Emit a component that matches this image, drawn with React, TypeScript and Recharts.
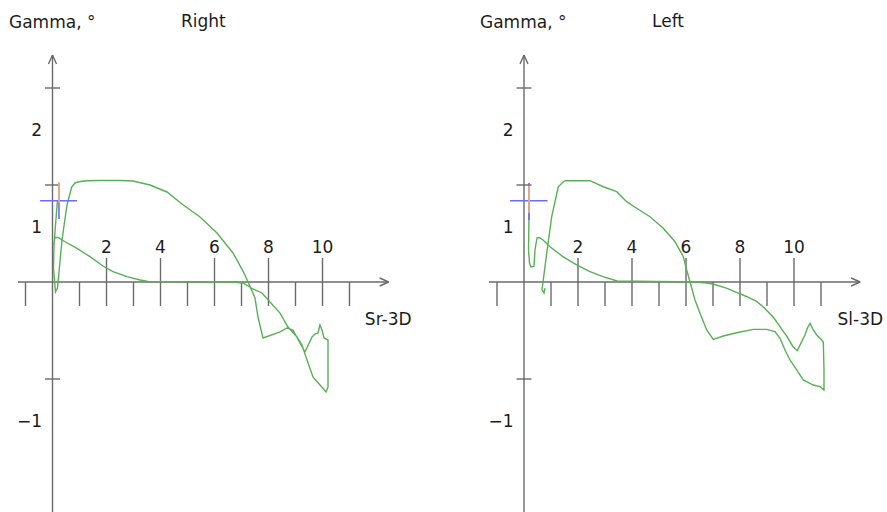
import { LineChart, Line, XAxis, YAxis, ReferenceLine, ReferenceDot } from "recharts";

// Gamma vs S-3D for both sides, drawn on a centred cross of axes.

const H = 512;
const ORIGIN_Y = 282; // px of Gamma = 0
const UNIT_X = 27; // px per unit of S-3D
const UNIT_Y = 97; // px per degree

const GREEN = "#58b054";
const AXIS = "#6a6a6a";
const INK = "#1c1c1c";
const BLUE = "#6b6bff";
const ORANGE = "#f3b277";
const FONT = "'DejaVu Sans', Verdana, sans-serif";

const majorTicksX = [2, 4, 6, 8, 10];
const minorTicksX = [-1, 1, 3, 5, 7, 9, 11];
const ticksY = [2, 1, -1];
const tickLabelsY = ["2", "1", "\u22121"];

// [S-3D, Gamma] for the right side, in recording order
const rightLoop: [number, number][] = [
  [0.185, 0.845], [0.111, 0.588], [0.056, 0.381], [0.037, 0.144], [0.111, -0.103],
  [0.185, -0.062], [0.352, 0.433], [0.537, 0.794], [0.711, 0.979], [0.833, 1.021],
  [1.019, 1.036], [1.278, 1.044], [1.759, 1.046], [2.5, 1.046], [2.981, 1.041],
  [3.611, 1.0], [4.241, 0.928], [4.796, 0.804], [5.463, 0.67], [6.093, 0.505],
  [6.685, 0.299], [7.056, 0.113], [7.241, 0.0], [7.5, -0.165], [7.611, -0.361],
  [7.796, -0.577], [8.426, -0.515], [8.685, -0.474], [8.907, -0.495], [9.167, -0.629],
  [9.352, -0.722], [9.611, -0.567], [9.722, -0.536], [9.833, -0.526], [9.907, -0.443],
  [9.981, -0.495], [10.056, -0.577], [10.204, -0.598], [10.204, -1.082], [10.13, -1.134],
  [9.907, -1.062], [9.648, -0.979], [9.426, -0.804], [9.241, -0.649], [9.056, -0.567],
  [8.722, -0.464], [8.426, -0.32], [8.056, -0.206], [7.759, -0.113], [7.426, -0.072],
  [7.056, -0.01], [6.685, 0.0], [3.537, 0.005], [3.241, 0.021], [2.759, 0.055],
  [2.241, 0.106], [1.87, 0.165], [1.389, 0.261], [0.907, 0.347], [0.463, 0.415],
  [0.204, 0.459], [0.093, 0.459], [0.037, 0.381],
];

// [S-3D, Gamma] for the left side, in recording order
const leftLoop: [number, number][] = [
  [0.185, 0.845], [0.185, 0.68], [0.167, 0.33], [0.204, 0.196], [0.259, 0.155],
  [0.37, 0.16], [0.407, 0.33], [0.481, 0.454], [0.556, 0.459], [0.704, 0.433],
  [0.963, 0.364], [1.444, 0.261], [1.963, 0.175], [2.444, 0.106], [2.926, 0.055],
  [3.444, 0.01], [6.389, 0.0], [6.63, -0.007], [6.999, -0.021], [7.519, -0.065],
  [7.889, -0.11], [8.259, -0.152], [8.63, -0.203], [8.852, -0.255], [9.222, -0.358],
  [9.481, -0.461], [9.741, -0.564], [9.963, -0.667], [10.122, -0.708], [10.285, -0.615],
  [10.407, -0.546], [10.493, -0.477], [10.593, -0.426], [10.715, -0.495], [10.841, -0.546],
  [11.026, -0.598], [11.085, -0.619], [11.111, -0.907], [11.111, -1.113], [10.963, -1.079],
  [10.715, -1.062], [10.344, -1.01], [10.1, -0.907], [9.852, -0.804], [9.667, -0.701],
  [9.481, -0.58], [9.296, -0.512], [8.989, -0.488], [8.493, -0.488], [7.878, -0.523],
  [7.381, -0.557], [7.011, -0.591], [6.767, -0.495], [6.519, -0.323], [6.333, -0.186],
  [6.148, 0.003], [6.026, 0.124], [5.9, 0.261], [5.593, 0.415], [5.159, 0.554],
  [4.667, 0.673], [4.174, 0.76], [3.804, 0.828], [3.433, 0.931], [2.937, 0.982],
  [2.444, 1.044], [1.519, 1.044], [1.456, 1.034], [1.27, 0.982], [1.026, 0.673],
  [0.841, 0.296], [0.667, -0.082], [0.741, -0.113], [0.778, -0.062],
];

// current position cursor: centre, horizontal span, vertical span, highlighted span
const rightCursor = { x: 0.24, y: 0.838, x0: -0.46, x1: 0.91, y0: 0.65, y1: 1.02, h0: 0.814, h1: 1.03 };
const leftCursor = { x: 0.185, y: 0.838, x0: -0.52, x1: 0.87, y0: 0.64, y1: 1.02, h0: 0.711, h1: 0.99 };

type Cursor = typeof rightCursor;

interface PanelProps {
  left: number;
  width: number;
  originX: number;
  loop: [number, number][];
  cursor: Cursor;
  title: string;
  axisName: string;
}

const textShape =
  (label: string, anchor: "start" | "middle" | "end") =>
  (props: any) =>
    (
      <text
        x={props.cx}
        y={props.cy}
        textAnchor={anchor}
        fontSize={17}
        fontFamily={FONT}
        fill={INK}
      >
        {label}
      </text>
    );

const Panel = ({ left, width, originX, loop, cursor, title, axisName }: PanelProps) => {
  const px = (n: number) => n / UNIT_X;
  const py = (n: number) => n / UNIT_Y;
  const xDomain: [number, number] = [-originX / UNIT_X, (width - originX) / UNIT_X];
  const yDomain: [number, number] = [(ORIGIN_Y - H) / UNIT_Y, ORIGIN_Y / UNIT_Y];
  const data = loop.map(([x, y]) => ({ x, y }));

  const xStart = -px(originX - 18);
  const xTip = 12.45;
  const yTip = py(ORIGIN_Y - 55);

  const seg = (x1: number, y1: number, x2: number, y2: number, color: string, w = 1.4, key?: string) => (
    <ReferenceLine
      key={key}
      segment={[{ x: x1, y: y1 }, { x: x2, y: y2 }]}
      stroke={color}
      strokeWidth={w}
      ifOverflow="visible"
    />
  );

  return (
    <div style={{ position: "absolute", left, top: 0, width, height: H }}>
      <LineChart width={width} height={H} data={data} margin={{ top: 0, right: 0, bottom: 0, left: 0 }}>
        <XAxis type="number" dataKey="x" domain={xDomain} hide allowDataOverflow />
        <YAxis type="number" dataKey="y" domain={yDomain} hide allowDataOverflow />

        {/* axes with arrow heads */}
        {seg(xStart, 0, xTip, 0, AXIS)}
        {seg(xTip - px(9), py(4), xTip, 0, AXIS)}
        {seg(xTip - px(9), -py(4), xTip, 0, AXIS)}
        {seg(0, yDomain[0], 0, yTip, AXIS)}
        {seg(-px(4), yTip - py(9), 0, yTip, AXIS)}
        {seg(px(4), yTip - py(9), 0, yTip, AXIS)}

        {majorTicksX.map((t) => seg(t, py(24), t, -py(24), AXIS, 1.4, `M${t}`))}
        {minorTicksX.map((t) => seg(t, 0, t, -py(24), AXIS, 1.4, `m${t}`))}
        {ticksY.map((t) => seg(-px(7.5), t, px(7.5), t, AXIS, 1.4, `y${t}`))}

        {majorTicksX.map((t) => (
          <ReferenceDot key={`lx${t}`} x={t} y={py(29)} r={0} ifOverflow="visible" shape={textShape(String(t), "middle")} />
        ))}
        {ticksY.map((t, i) => (
          <ReferenceDot
            key={`ly${t}`}
            x={-px(10.5)}
            y={t - py(48)}
            r={0}
            ifOverflow="visible"
            shape={textShape(tickLabelsY[i], "end")}
          />
        ))}
        <ReferenceDot x={13.3} y={-py(43)} r={0} ifOverflow="visible" shape={textShape(axisName, "end")} />

        <Line
          type="linear"
          dataKey="y"
          stroke={GREEN}
          strokeWidth={1.4}
          dot={false}
          isAnimationActive={false}
        />

        {seg(cursor.x0, cursor.y, cursor.x1, cursor.y, BLUE, 1.6)}
        {seg(cursor.x, cursor.y0, cursor.x, cursor.y1, BLUE, 1.6)}
        {seg(cursor.x, cursor.h0, cursor.x, cursor.h1, ORANGE, 1.6)}
      </LineChart>
      <svg width={width} height={40} style={{ position: "absolute", left: 0, top: 0 }}>
        <text x={9} y={28} fontSize={17} fontFamily={FONT} fill={INK}>
          Gamma, °
        </text>
        <text x={181} y={27} fontSize={17} fontFamily={FONT} fill={INK}>
          {title}
        </text>
      </svg>
    </div>
  );
};

export default function App() {
  return (
    <div
      style={{
        position: "fixed",
        left: 0,
        top: 0,
        width: 887,
        height: H,
        background: "#fff",
        overflow: "hidden",
      }}
    >
      <Panel left={0} width={440} originX={52.5} loop={rightLoop} cursor={rightCursor} title="Right" axisName="Sr-3D" />
      <Panel left={471} width={416} originX={53} loop={leftLoop} cursor={leftCursor} title="Left" axisName="Sl-3D" />
    </div>
  );
}
